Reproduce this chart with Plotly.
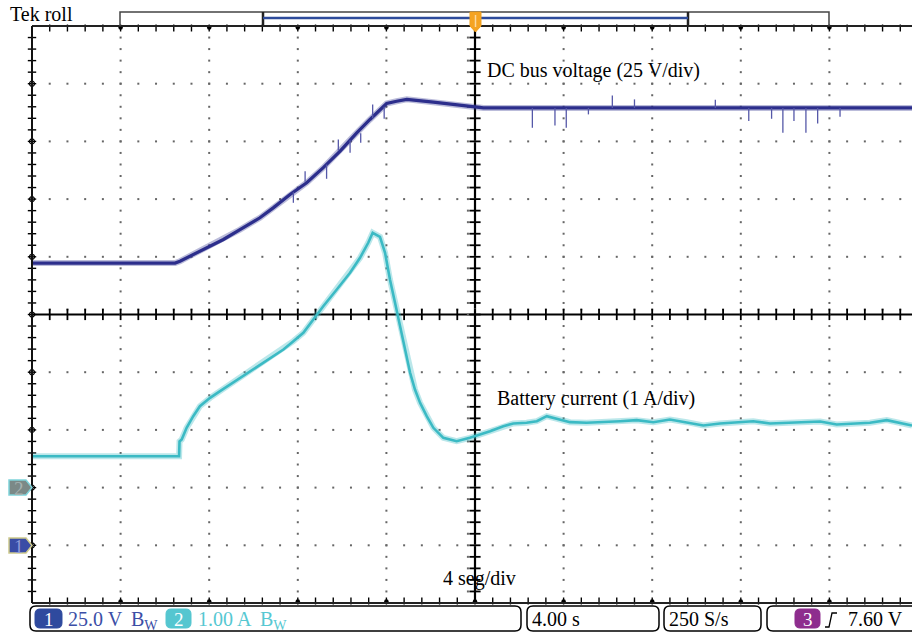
import plotly.graph_objects as go

W, H = 912, 635

# ---------------- scope settings ----------------
T_DIV = 4.0        # s/div
V_DIV = 25.0       # V/div  (channel 1)
A_DIV = 1.0        # A/div  (channel 2)
CH1_GND = -4       # ground marker position in divisions
CH2_GND = -3
X_VISIBLE_DIV = 880 / 88.6   # the screen is cut at the right edge

# ---------------- channel 1 : DC bus voltage (V) ----------------
ch1_t = [0.0, 6.46, 6.68, 7.28, 8.04, 8.64, 9.39, 10.29, 10.89, 11.65, 12.40,
         13.15, 13.91, 14.66, 15.26, 15.71, 16.01, 16.46, 16.92, 18.12, 19.62,
         20.38, 25.0, 30.0, 35.0, 39.73]
ch1_v = [122.3, 122.3, 123.1, 126.0, 129.6, 132.5, 136.8, 141.9, 146.2, 152.0,
         157.1, 163.6, 170.8, 178.7, 184.5, 188.8, 191.4, 192.4, 193.2, 192.0,
         190.3, 189.5, 189.5, 189.4, 189.5, 189.5]

# glitches on channel 1
spike_t    = [11.80, 12.33, 13.30, 13.83, 14.36, 14.84, 15.38, 15.90, 22.59, 23.61,
              24.12, 25.12, 26.20, 27.20, 30.85, 32.36, 33.39, 33.90, 34.40, 34.94,
              35.47, 36.48]
spike_base = [153.0, 157.5, 165.0, 171.0, 175.5, 178.5, 185.0, 190.0, 189.5, 189.5,
              189.5, 189.5, 189.5, 189.5, 189.5, 189.5, 189.5, 189.5, 189.5, 189.5,
              189.5, 189.5]
spike_tip  = [148.4, 162.1, 158.8, 175.8, 170.1, 174.4, 191.0, 184.8, 180.9, 181.9,
              180.9, 186.7, 194.9, 193.2, 193.0, 183.8, 184.8, 178.7, 183.8, 178.7,
              182.8, 185.7]

# ---------------- channel 2 : battery current (A) ----------------
ch2_t = [0.0, 6.64, 6.66, 6.76, 6.98, 7.28, 7.58, 8.04, 8.49, 8.94, 9.39, 9.84,
         10.44, 10.89, 11.35, 11.80, 12.25, 12.70, 13.15, 13.76, 14.36, 14.81,
         15.18, 15.38, 15.71, 15.94, 16.16, 16.39, 16.61, 16.84, 17.07, 17.29,
         17.52, 17.82, 18.12, 18.57, 19.17, 19.77, 20.23, 20.68, 21.28, 21.73,
         22.33, 22.79, 23.24, 23.69, 24.29, 25.04, 25.79, 26.55, 27.30, 28.05,
         28.80, 29.56, 30.31, 31.06, 31.82, 32.56, 33.32, 34.07, 34.82, 35.58,
         36.33, 37.08, 37.83, 38.59, 39.34, 39.73]
ch2_a = [0.544, 0.544, 0.800, 0.834, 1.036, 1.238, 1.411, 1.556, 1.671, 1.787,
         1.903, 2.018, 2.163, 2.278, 2.393, 2.538, 2.683, 2.913, 3.144, 3.433,
         3.722, 3.983, 4.243, 4.416, 4.345, 4.069, 3.607, 3.203, 2.797, 2.393,
         1.990, 1.700, 1.469, 1.238, 1.036, 0.863, 0.804, 0.863, 0.920, 0.978,
         1.064, 1.111, 1.123, 1.151, 1.238, 1.192, 1.134, 1.123, 1.134, 1.151,
         1.169, 1.134, 1.180, 1.134, 1.076, 1.111, 1.134, 1.151, 1.111, 1.123,
         1.134, 1.146, 1.094, 1.111, 1.123, 1.169, 1.111, 1.076]

# ---------------- texts ----------------
title_text = "Tek roll"
ch1_label = "DC bus voltage (25 V/div)"
ch2_label = "Battery current (1 A/div)"
time_label = "4 seg/div"
ch1_scale = "25.0 V"
ch2_scale = "1.00 A"
timebase = "4.00 s"
sample_rate = "250 S/s"
trigger_level = "7.60 V"

C1 = "#2c2e8c"
C1_HALO = "rgba(44,46,140,0.32)"
C2 = "#3bbac4"
C2_HALO = "rgba(59,186,196,0.35)"
FONT = "Liberation Serif"


def PX(x):
    return x / W


def PY(y):
    return 1 - y / H


x_max = X_VISIBLE_DIV * T_DIV
fig = go.Figure()

# ---------------- graticule dots ----------------
gx, gy = [], []
n_minor_x = int(X_VISIBLE_DIV * 5)
for row in [-4, -3, -2, -1, 0.087, 1, 2, 3, 4]:
    for k in range(1, n_minor_x + 1):
        gx.append(k * T_DIV / 5)
        gy.append(row)
for col in [1, 2, 3, 4, 4.92, 6, 7, 8, 9]:
    for k in range(-24, 25):
        gx.append(col * T_DIV)
        gy.append(k / 5)
fig.add_trace(go.Scatter(x=gx, y=gy, mode="markers", yaxis="y",
                         marker=dict(symbol="square", size=2, color="#666"),
                         hoverinfo="skip", showlegend=False))

# ---------------- waveforms ----------------
fig.add_trace(go.Scatter(x=ch2_t, y=ch2_a, yaxis="y3", mode="lines",
                         line=dict(color=C2_HALO, width=6), hoverinfo="skip", showlegend=False))
fig.add_trace(go.Scatter(x=ch2_t, y=ch2_a, yaxis="y3", mode="lines",
                         line=dict(color=C2, width=2.6), showlegend=False))
fig.add_trace(go.Scatter(x=ch1_t, y=ch1_v, yaxis="y2", mode="lines",
                         line=dict(color=C1_HALO, width=6), hoverinfo="skip", showlegend=False))
fig.add_trace(go.Scatter(x=ch1_t, y=ch1_v, yaxis="y2", mode="lines",
                         line=dict(color=C1, width=3.2), showlegend=False))
sx, sy = [], []
for t, b, tip in zip(spike_t, spike_base, spike_tip):
    sx += [t, t, None]
    sy += [b, tip, None]
fig.add_trace(go.Scatter(x=sx, y=sy, yaxis="y2", mode="lines",
                         line=dict(color="#5558a8", width=1.3), hoverinfo="skip", showlegend=False))

# ---------------- frame ticks ----------------
px_div_y = 577 / 10.0
minor_x = [k * T_DIV / 5 for k in range(1, n_minor_x + 1)]
minor_y = [k / 5 for k in range(-24, 25)]
tick_common = dict(mode="markers", yaxis="y", hoverinfo="skip", showlegend=False, cliponaxis=False)
fig.add_trace(go.Scatter(x=minor_x, y=[5 - 2 / px_div_y] * len(minor_x),
                         marker=dict(symbol="line-ns-open", size=5, color="black", line=dict(width=1.4)),
                         **tick_common))
fig.add_trace(go.Scatter(x=minor_x, y=[-5 + 2 / px_div_y] * len(minor_x),
                         marker=dict(symbol="line-ns-open", size=5, color="black", line=dict(width=1.4)),
                         **tick_common))
fig.add_trace(go.Scatter(x=[0] * len(minor_y), y=minor_y,
                         marker=dict(symbol="line-ew-open", size=6, color="black", line=dict(width=1.4)),
                         **tick_common))
fig.add_trace(go.Scatter(x=minor_x, y=[0] * len(minor_x),
                         marker=dict(symbol="line-ns-open", size=8, color="black", line=dict(width=1.8)),
                         **tick_common))
fig.add_trace(go.Scatter(x=[5 * T_DIV] * len(minor_y), y=minor_y,
                         marker=dict(symbol="line-ew-open", size=8, color="black", line=dict(width=1.8)),
                         **tick_common))
major_x = [k * T_DIV for k in range(1, 10)]
fig.add_trace(go.Scatter(x=major_x + major_x, y=[5 - 1.5 / px_div_y] * 9 + [-5 + 1.5 / px_div_y] * 9,
                         marker=dict(symbol="circle", size=4.5, color="black"), **tick_common))
fig.add_trace(go.Scatter(x=[0] * 9, y=list(range(-4, 5)),
                         marker=dict(symbol="circle-open", size=5, color="black", line=dict(width=1.2)),
                         **tick_common))

shapes = []
# centre axes
shapes.append(dict(type="line", xref="x", yref="y", x0=5 * T_DIV, x1=5 * T_DIV, y0=-5, y1=5,
                   line=dict(color="black", width=2.2), layer="below"))
shapes.append(dict(type="line", xref="x", yref="y", x0=0, x1=x_max, y0=0, y1=0,
                   line=dict(color="black", width=2.2), layer="below"))


def pline(x0, y0, x1, y1, color="black", width=2):
    shapes.append(dict(type="line", xref="paper", yref="paper", x0=PX(x0), y0=PY(y0),
                       x1=PX(x1), y1=PY(y1), line=dict(color=color, width=width)))


def ppath(points, fill=None, color="black", width=1.5, close=True):
    d = "M " + " L ".join(f"{PX(x):.5f},{PY(y):.5f}" for x, y in points)
    if close:
        d += " Z"
    shapes.append(dict(type="path", xref="paper", yref="paper", path=d,
                       fillcolor=fill if fill else "rgba(0,0,0,0)",
                       line=dict(color=color, width=width)))


def rrect(x0, y0, x1, y1, r, fill=None, color="black", width=1.5):
    d = (f"M {PX(x0 + r):.5f},{PY(y0):.5f} L {PX(x1 - r):.5f},{PY(y0):.5f} "
         f"Q {PX(x1):.5f},{PY(y0):.5f} {PX(x1):.5f},{PY(y0 + r):.5f} "
         f"L {PX(x1):.5f},{PY(y1 - r):.5f} Q {PX(x1):.5f},{PY(y1):.5f} {PX(x1 - r):.5f},{PY(y1):.5f} "
         f"L {PX(x0 + r):.5f},{PY(y1):.5f} Q {PX(x0):.5f},{PY(y1):.5f} {PX(x0):.5f},{PY(y1 - r):.5f} "
         f"L {PX(x0):.5f},{PY(y0 + r):.5f} Q {PX(x0):.5f},{PY(y0):.5f} {PX(x0 + r):.5f},{PY(y0):.5f} Z")
    shapes.append(dict(type="path", xref="paper", yref="paper", path=d,
                       fillcolor=fill if fill else "rgba(0,0,0,0)",
                       line=dict(color=color, width=width)))


# frame border
pline(32, 26, 912, 26, "#222", 2)
pline(32, 603, 912, 603, "#222", 2)
pline(32, 26, 32, 603, "#111", 2)

# record-length bracket at the top
ppath([(120, 26), (120, 12), (829, 12), (829, 26)], color="#444", width=1.5, close=False)
pline(263, 12, 263, 26, "#222", 2.5)
pline(688, 12, 688, 26, "#222", 2.5)
pline(263, 18, 688, 18, "#2d4b9b", 2.5)
# trigger marker
ppath([(470, 12), (481, 12), (481, 26), (475.5, 32), (470, 26)], fill="#f5a321", color="#f0a020", width=1)
pline(475.5, 15, 475.5, 27, "#fbd9a0", 1.5)

# channel ground markers
ppath([(9, 480), (26, 480), (32, 487.5), (26, 495), (9, 495)], fill="#7b8987", color="#7fd3da", width=1.5)
ppath([(9, 538), (26, 538), (32, 545.5), (26, 553), (9, 553)], fill="#3a4ca6", color="#cdc98c", width=1.5)

# status bar boxes
rrect(30, 606, 521, 631, 6)
rrect(527, 606, 659, 631, 6)
rrect(664, 606, 761, 631, 6)
rrect(767, 606, 930, 631, 6)
rrect(35, 609, 62, 628, 5, fill="#2f4a9e", color="#2f4a9e", width=1)
rrect(166, 609, 191, 628, 5, fill="#55c6d0", color="#55c6d0", width=1)
rrect(795, 609, 820, 628, 5, fill="#8e2d8e", color="#8e2d8e", width=1)
# rising edge glyph
ppath([(825, 627), (829, 627), (832, 613), (837, 613)], color="black", width=1.3, close=False)

annotations = []


def label(x, y, text, size=20, color="black", anchor="left"):
    annotations.append(dict(x=PX(x), y=PY(y), xref="paper", yref="paper", text=text,
                            showarrow=False, xanchor=anchor, yanchor="middle",
                            font=dict(family=FONT, size=size, color=color)))


label(8, 14, title_text)
label(485, 70, ch1_label)
label(495, 398, ch2_label)
label(441, 578, time_label)
label(48.5, 619, "1", 19, "white", "center")
label(66, 619, ch1_scale, 20, "#3b4ea6")
label(129, 620, "B<sub>W</sub>", 20, "#3b4ea6")
label(178.5, 619, "2", 19, "white", "center")
label(196, 619, ch2_scale, 20, "#56c8d2")
label(258, 620, "B<sub>W</sub>", 20, "#56c8d2")
label(530, 619, timebase)
label(667, 619, sample_rate)
label(807.5, 619, "3", 19, "white", "center")
label(846, 619, trigger_level)
label(18.5, 488, "2", 19, "#a6b2b0", "center")
label(18.5, 546, "1", 19, "#8e9ad6", "center")

fig.update_layout(
    width=W, height=H,
    margin=dict(l=0, r=0, t=0, b=0),
    paper_bgcolor="white", plot_bgcolor="white",
    showlegend=False,
    xaxis=dict(domain=[32 / W, 1], range=[0, x_max], visible=False),
    yaxis=dict(domain=[32 / H, 609 / H], range=[-5, 5], visible=False),
    yaxis2=dict(overlaying="y", range=[(-5 - CH1_GND) * V_DIV, (5 - CH1_GND) * V_DIV], visible=False),
    yaxis3=dict(overlaying="y", range=[(-5 - CH2_GND) * A_DIV, (5 - CH2_GND) * A_DIV], visible=False),
    shapes=shapes,
    annotations=annotations,
)

fig.write_html("out.html", config={"displayModeBar": False})
